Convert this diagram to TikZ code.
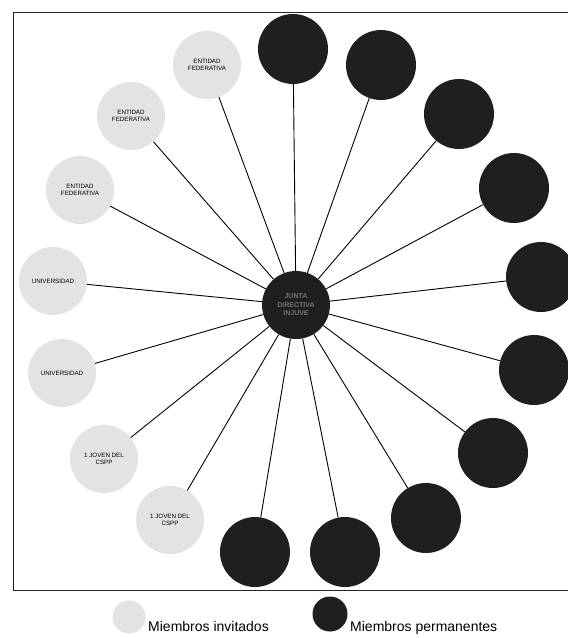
\documentclass[tikz,border=0pt]{standalone}
\usepackage{fontspec}
\setmainfont{Liberation Sans}
\begin{document}
\begin{tikzpicture}[x=1pt,y=-1pt,
  inv/.style={circle, fill=gray!22, minimum size=68pt, inner sep=0pt, align=center,
    font=\fontsize{6.2}{6.8}\selectfont, text=black},
  perm/.style={circle, fill=black!88, minimum size=70pt, inner sep=0pt},
  link/.style={draw=black, line width=0.9pt},
  frameline/.style={draw=black!85, line width=0.9pt},
  legtext/.style={anchor=base west, font=\fontsize{14}{16}\selectfont, inner sep=0pt}]
\useasboundingbox (0,0) rectangle (568,638);
% frame
\draw[frameline] (568,12) -- (13,12) -- (13,590) -- (568,590);
% center
\node[perm, minimum size=68pt, align=center, text=black!55,
      font=\fontsize{7}{8.5}\selectfont\bfseries] (c) at (296,305) {JUNTA\\DIRECTIVA\\INJUVE};
% permanent members
\node[perm] (d1) at (293,49) {};
\node[perm] (d2) at (381,65) {};
\node[perm] (d3) at (459,114) {};
\node[perm] (d4) at (514,188) {};
\node[perm] (d5) at (541,277) {};
\node[perm] (d6) at (534,370) {};
\node[perm] (d7) at (493,453) {};
\node[perm] (d8) at (426,518) {};
\node[perm] (d9) at (345,552) {};
\node[perm] (d10) at (255,552) {};
% invited members
\node[inv] (l1) at (207,65) {ENTIDAD\\FEDERATIVA};
\node[inv] (l2) at (131,116) {ENTIDAD\\FEDERATIVA};
\node[inv] (l3) at (80,190) {ENTIDAD\\FEDERATIVA};
\node[inv] (l4) at (53,281) {UNIVERSIDAD};
\node[inv] (l5) at (62,373) {UNIVERSIDAD};
\node[inv] (l6) at (104,459) {1 JOVEN DEL\\CSPP};
\node[inv] (l7) at (170,520) {1 JOVEN DEL\\CSPP};
% connectors
\foreach \n in {d1,d2,d3,d4,d5,d6,d7,d8,d9,d10,l1,l2,l3,l4,l5,l6,l7}
  \draw[link] (c) -- (\n);
% legend
\node[inv, minimum size=33pt] (li) at (129,617) {};
\node[legtext] (lit) at (148,631) {Miembros invitados};
\node[perm, minimum size=35pt] (lp) at (330,614) {};
\node[legtext] (lpt) at (350,631) {Miembros permanentes};
\end{tikzpicture}
\end{document}
